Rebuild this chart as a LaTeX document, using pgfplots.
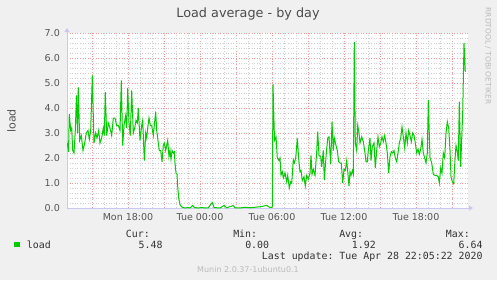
\documentclass[border=0pt]{standalone}
\usepackage{pgfplots}
\pgfplotsset{compat=1.18}
\usepackage{fontspec}
\setmainfont{DejaVu Sans}
\setmonofont{DejaVu Sans Mono}
\usetikzlibrary{arrows.meta}
\definecolor{bg}{HTML}{F0F0F0}
\definecolor{mgrid}{HTML}{F29B9B}
\definecolor{ngrid}{HTML}{D0D0D0}
\definecolor{axiscol}{HTML}{C8C8F0}
\definecolor{loadgreen}{HTML}{00CC00}
\definecolor{txt}{HTML}{555555}
\definecolor{faint}{HTML}{BBBBBB}
\begin{document}
\begin{tikzpicture}[x=1bp,y=1bp]
\useasboundingbox (0,0) rectangle (497,280);
\fill[bg] (0,0) rectangle (497,280);
\begin{axis}[
  at={(67bp,72bp)}, anchor=south west,
  scale only axis, width=401bp, height=175bp,
  xmin=-665, xmax=1340, ymin=0, ymax=7,
  axis x line*=bottom, axis y line*=left,
  axis line style={draw=axiscol, line width=1bp},
  x axis line style={-{Triangle[length=4bp,width=5bp]}, shorten >=-5bp},
  y axis line style={-{Triangle[length=4bp,width=5bp]}, shorten >=-5bp},
  xtick={-540,-360,...,1260},
  xticklabels={,Mon 18:00,,Tue 00:00,,Tue 06:00,,Tue 12:00,,Tue 18:00,},
  minor x tick num=2,
  ytick={0,1,...,7},
  yticklabels={0.0,1.0,2.0,3.0,4.0,5.0,6.0,7.0},
  minor y tick num=4,
  grid=both,
  major grid style={draw=mgrid, dash pattern=on 1bp off 1.6bp, line width=0.7bp},
  minor grid style={draw=ngrid, dash pattern=on 1bp off 1.6bp, line width=0.7bp},
  major tick length=0pt, minor tick length=0pt,
  tick style={draw=none},
  ticklabel style={font=\fontsize{9.5bp}{11bp}\selectfont, text=txt, inner sep=0pt},
  yticklabel style={xshift=-7bp},
  xticklabel style={yshift=-5bp},
  axis background/.style={fill=white},
]
\addplot[color=loadgreen, line width=1bp, mark=none] coordinates {
(-663.5,2.6) (-657.5,2.25) (-653.5,3.75) (-646.5,3.1) (-641.5,3.2) (-636.5,2.3) (-630,2.2) (-623.5,3.1) (-617.5,4.5) (-612.5,3.0)
(-608.5,4.82) (-601.5,2.7) (-593.5,2.9) (-585,2.3) (-576.5,2.6) (-568.5,3.0) (-560,3.1) (-553.5,2.75) (-546.5,3.1) (-538.5,5.3)
(-530,2.6) (-521.5,3.0) (-515,2.8) (-506.5,3.1) (-500,2.6) (-491.5,2.8) (-483.5,3.2) (-478.5,2.9) (-473.5,4.64) (-466.5,2.9)
(-458.5,3.4) (-450,3.2) (-441.5,2.9) (-433.5,3.6) (-425,3.6) (-416.5,3.3) (-408.5,3.3) (-400,3.1) (-393.5,5.1) (-386.5,2.5)
(-380,3.3) (-371.5,3.7) (-366.5,3.2) (-361.5,4.8) (-355,3.4) (-348.5,2.9) (-341.5,4.7) (-333.5,3.0) (-326.5,3.2) (-320,3.5)
(-313.5,3.4) (-308.5,4.0) (-300,2.7) (-291.5,3.3) (-286.5,3.5) (-278.5,1.9) (-271.5,3.0) (-266.5,2.8) (-261.5,3.2) (-255,3.6)
(-248.5,3.3) (-241.5,3.3) (-233.5,2.9) (-221.5,3.85) (-216.5,3.1) (-208.5,2.6) (-203.5,2.3) (-196.5,2.3) (-190,1.85) (-183.5,2.5)
(-178.5,2.6) (-171.5,2.3) (-166.5,2.5) (-161.5,2.7) (-155,2.05) (-150,2.3) (-145,1.95) (-140,2.3) (-133.5,2.2) (-128.5,2.25)
(-125,1.8) (-120,1.4) (-115,1.35) (-111.5,0.85) (-106.5,0.4) (-100,0.13) (-91.5,0.04) (-75,0.0) (-58.5,0.02) (-50,0.0)
(-36.5,0.1) (-28.5,0.02) (-8.5,0.0) (8.5,0.02) (25,0.0) (41.5,0.01) (61.5,0.22) (70,0.02) (100,0.0) (120,0.1)
(133.5,0.01) (166.5,0.1) (175,0.01) (200,0.0) (225,0.03) (250,0.01) (300,0.05) (333.5,0.1) (350,0.02) (358.5,0.03)
(361.5,0.05) (365,4.95) (372.5,2.7) (380,2.85) (386.5,2.0) (395,1.9) (400,2.0) (405,1.32) (411.5,1.45) (416.5,1.2)
(425,1.4) (433.5,1.05) (438.5,1.3) (446.5,0.8) (453.5,1.05) (458.5,1.0) (466.5,1.92) (471.5,1.8) (478.5,2.0) (486.5,2.78)
(493.5,1.95) (500,1.45) (505,1.5) (511.5,1.1) (520,1.25) (526.5,0.88) (533.5,1.3) (541.5,1.15) (550,1.4) (555,2.1)
(560,1.35) (566.5,1.55) (575,1.3) (583.5,2.25) (588.5,3.05) (595,2.1) (603.5,2.05) (608.5,1.65) (616.5,2.3) (621.5,1.12)
(630,2.05) (638.5,2.8) (645,2.85) (653.5,1.75) (660,3.45) (666.5,2.3) (671.5,2.8) (680,2.5) (686.5,2.3) (693.5,1.85)
(700,1.8) (706.5,1.8) (713.5,1.0) (720,1.55) (726.5,1.5) (733.5,1.9) (738.5,1.45) (745,0.88) (750,1.45) (755,1.3)
(761.5,1.5) (766.5,1.35) (771.5,6.63) (776.5,2.6) (783.5,2.3) (788.5,3.3) (795,3.0) (800,2.6) (808.5,2.85) (816.5,2.65)
(825,2.2) (830,1.85) (836.5,1.85) (841.5,2.3) (850,2.8) (855,1.9) (861.5,2.45) (870,2.6) (876.5,1.6) (883.5,2.3)
(890,2.85) (896.5,2.45) (903.5,2.6) (910,2.85) (916.5,2.65) (923.5,2.9) (930,2.6) (936.5,2.2) (943.5,1.4) (950,2.05)
(956.5,2.25) (963.5,2.2) (970,2.3) (976.5,2.0) (983.5,1.85) (990,2.2) (996.5,2.6) (1003.5,2.8) (1010,3.25) (1016.5,2.85)
(1023.5,2.4) (1030,3.0) (1036.5,2.6) (1043.5,3.1) (1050,2.9) (1056.5,2.65) (1063.5,3.0) (1070,2.9) (1076.5,2.6) (1083.5,2.2)
(1090,2.35) (1096.5,2.15) (1103.5,2.35) (1110,2.75) (1116.5,2.2) (1123.5,2.0) (1130,1.8) (1136.5,2.2) (1141.5,4.32) (1150,2.0)
(1158.5,1.8) (1166.5,1.35) (1175,1.3) (1183.5,1.3) (1191.5,1.25) (1196.5,1.0) (1203.5,1.6) (1210,1.4) (1216.5,2.2) (1223.5,2.0)
(1230,3.0) (1236.5,3.45) (1243.5,3.2) (1250,2.3) (1255,1.25) (1261.5,1.05) (1268.5,0.97) (1275,1.95) (1280,2.5) (1286.5,2.25)
(1291.5,1.9) (1296.5,4.25) (1303.5,1.65) (1308.5,2.8) (1313.5,3.8) (1320,6.6) (1326.5,5.45)
};
\end{axis}
% title
\node[anchor=base, inner sep=0pt, text=black!70, font=\fontsize{12.8bp}{14bp}\selectfont] at (248,263) {Load average - by day};
% y label
\node[rotate=90, inner sep=0pt, text=txt, font=\fontsize{11bp}{13bp}\selectfont] at (11.5,159) {load};
% watermark
\node[rotate=-90, inner sep=0pt, text=faint, font=\fontsize{7.5bp}{9bp}\selectfont] at (488,224) {RRDTOOL / TOBI OETIKER};
% legend
\fill[loadgreen] (14,33) rectangle (19.5,38.5);
\begin{scope}[every node/.style={inner sep=0pt, text=black!80, font=\ttfamily\fontsize{9.9bp}{11bp}\selectfont}]
\node[anchor=base west] at (26.7,32) {load};
\node[anchor=base east] at (150,43) {Cur:};
\node[anchor=base east] at (257.3,43) {Min:};
\node[anchor=base east] at (363.3,43) {Avg:};
\node[anchor=base east] at (470,43) {Max:};
\node[anchor=base east] at (162.7,32) {5.48};
\node[anchor=base east] at (269.3,32) {0.00};
\node[anchor=base east] at (376,32) {1.92};
\node[anchor=base east] at (482.7,32) {6.64};
\node[anchor=base east] at (482.7,20.5) {Last update: Tue Apr 28 22:05:22 2020};
\end{scope}
\node[anchor=base, inner sep=0pt, text=faint, font=\fontsize{8bp}{9bp}\selectfont] at (248,8) {Munin 2.0.37-1ubuntu0.1};
\end{tikzpicture}
\end{document}
